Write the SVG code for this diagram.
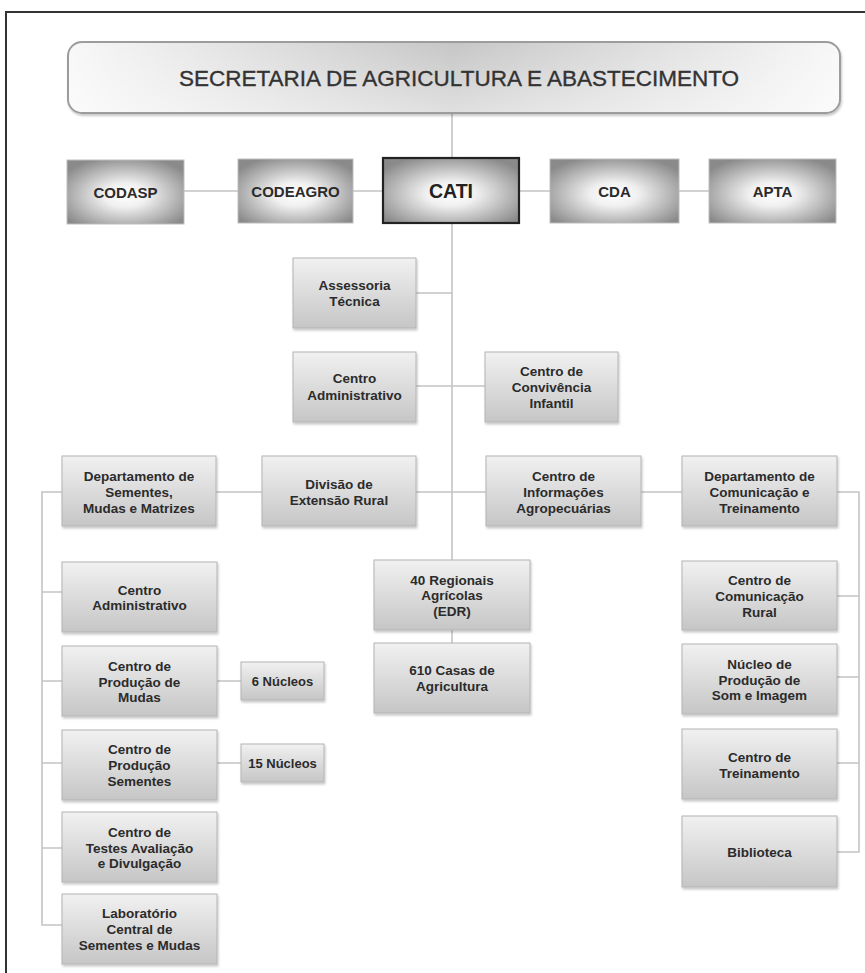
<svg xmlns="http://www.w3.org/2000/svg" width="865" height="973" viewBox="0 0 865 973">
<defs>
<linearGradient id="gHead" x1="0" y1="0" x2="1" y2="0">
<stop offset="0" stop-color="#f7f7f7"/>
<stop offset="0.5" stop-color="#c0c0c0"/>
<stop offset="1" stop-color="#f7f7f7"/>
</linearGradient>
<linearGradient id="gHeadV" x1="0" y1="0" x2="0" y2="1">
<stop offset="0" stop-color="#ffffff" stop-opacity="0.1"/>
<stop offset="1" stop-color="#ffffff" stop-opacity="0.5"/>
</linearGradient>
<radialGradient id="gTop" cx="0.5" cy="0.55" r="0.62">
<stop offset="0" stop-color="#ffffff"/>
<stop offset="0.3" stop-color="#f0f0f0"/>
<stop offset="1" stop-color="#8a8a8a"/>
</radialGradient>
<linearGradient id="gBox" x1="0" y1="0" x2="0" y2="1">
<stop offset="0" stop-color="#f1f1f1"/>
<stop offset="1" stop-color="#c6c6c6"/>
</linearGradient>
<filter id="sh" x="-10%" y="-10%" width="125%" height="130%">
<feDropShadow dx="1" dy="2" stdDeviation="1.2" flood-color="#000" flood-opacity="0.22"/>
</filter>
</defs>
<style>
.frame{fill:none;stroke:#333;stroke-width:2}
.con{fill:none;stroke:#c4c4c4;stroke-width:1.6}
.top{fill:url(#gTop);stroke:#bdbdbd;stroke-width:1}
.box{fill:url(#gBox);stroke:#b4b4b4;stroke-width:1;filter:url(#sh)}
.t{font-family:"Liberation Sans",Arial,sans-serif;font-weight:bold;font-size:13.5px;fill:#2b2b2b;text-anchor:middle;dominant-baseline:central}
.tt{font-family:"Liberation Sans",Arial,sans-serif;font-weight:bold;font-size:15px;fill:#2b2b2b;text-anchor:middle;dominant-baseline:central}
.tn{font-family:"Liberation Sans",Arial,sans-serif;font-weight:bold;font-size:13px;fill:#2b2b2b;text-anchor:middle;dominant-baseline:central}
</style>
<rect width="865" height="973" fill="#ffffff"/>
<rect class="frame" x="6" y="12" width="900" height="1000"/>

<g id="connectors">
<path class="con" d="M452 113 V643"/>
<path class="con" d="M184 191 H238 M353 191 H383 M519 191 H550 M679 191 H709"/>
<path class="con" d="M416 293 H452 M416 386 H485"/>
<path class="con" d="M216 492 H262 M416 492 H486 M641 492 H682"/>
<path class="con" d="M62 492 H42 V925 H62 M42 592 H62 M42 681 H62 M42 763 H62 M42 848 H62"/>
<path class="con" d="M217 681 H241 M217 763 H241"/>
<path class="con" d="M837 492 H859 V852 H837 M859 596 H837 M859 677 H837 M859 763 H837"/>
</g>

<g id="secretaria">
<rect x="68" y="42" width="772" height="71" rx="14" fill="url(#gHead)" stroke="#9c9c9c" stroke-width="2" filter="url(#sh)"/>
<rect x="69" y="43" width="770" height="69" rx="13" fill="url(#gHeadV)"/>
<text x="459" y="78" font-family="'Liberation Sans',Arial,sans-serif" font-size="22.5" fill="#333" stroke="#333" stroke-width="0.35" text-anchor="middle" dominant-baseline="central">SECRETARIA DE AGRICULTURA E ABASTECIMENTO</text>
</g>

<g id="codasp"><rect class="top" x="67" y="160" width="117" height="64"/><text class="tt" x="125.5" y="192">CODASP</text></g>
<g id="codeagro"><rect class="top" x="238" y="159" width="115" height="64"/><text class="tt" x="295.5" y="191">CODEAGRO</text></g>
<g id="cati"><rect x="383" y="158" width="136" height="65" fill="url(#gTop)" stroke="#222" stroke-width="2.2"/><text x="451" y="191" font-family="'Liberation Sans',Arial,sans-serif" font-weight="bold" font-size="19.5" fill="#222" text-anchor="middle" dominant-baseline="central">CATI</text></g>
<g id="cda"><rect class="top" x="550" y="159" width="129" height="64"/><text class="tt" x="614.5" y="191">CDA</text></g>
<g id="apta"><rect class="top" x="709" y="159" width="127" height="64"/><text class="tt" x="772.5" y="191">APTA</text></g>

<g id="assessoria"><rect class="box" x="293" y="258" width="123" height="70"/><text class="t" x="354.5" y="285">Assessoria</text><text class="t" x="354.5" y="301">Técnica</text></g>
<g id="centro-adm-cati"><rect class="box" x="293" y="352" width="123" height="70"/><text class="t" x="354.5" y="378">Centro</text><text class="t" x="354.5" y="395">Administrativo</text></g>
<g id="convivencia"><rect class="box" x="485" y="352" width="133" height="70"/><text class="t" x="551.5" y="371">Centro de</text><text class="t" x="551.5" y="387">Convivência</text><text class="t" x="551.5" y="403">Infantil</text></g>

<g id="dep-sementes"><rect class="box" x="62" y="456" width="154" height="70"/><text class="t" x="139" y="476">Departamento de</text><text class="t" x="139" y="492">Sementes,</text><text class="t" x="139" y="508">Mudas e Matrizes</text></g>
<g id="divisao"><rect class="box" x="262" y="456" width="154" height="70"/><text class="t" x="339" y="484">Divisão de</text><text class="t" x="339" y="500">Extensão Rural</text></g>
<g id="centro-info"><rect class="box" x="486" y="456" width="155" height="70"/><text class="t" x="563.5" y="476">Centro de</text><text class="t" x="563.5" y="492">Informações</text><text class="t" x="563.5" y="508">Agropecuárias</text></g>
<g id="dep-comunicacao"><rect class="box" x="682" y="456" width="155" height="70"/><text class="t" x="759.5" y="476">Departamento de</text><text class="t" x="759.5" y="492">Comunicação e</text><text class="t" x="759.5" y="508">Treinamento</text></g>

<g id="centro-adm-sem"><rect class="box" x="62" y="562" width="155" height="70"/><text class="t" x="139.5" y="590">Centro</text><text class="t" x="139.5" y="605">Administrativo</text></g>
<g id="prod-mudas"><rect class="box" x="62" y="646" width="155" height="70"/><text class="t" x="139.5" y="666">Centro de</text><text class="t" x="139.5" y="682">Produção de</text><text class="t" x="139.5" y="697">Mudas</text></g>
<g id="prod-sementes"><rect class="box" x="62" y="730" width="155" height="70"/><text class="t" x="139.5" y="749">Centro de</text><text class="t" x="139.5" y="765">Produção</text><text class="t" x="139.5" y="781">Sementes</text></g>
<g id="testes"><rect class="box" x="62" y="812" width="155" height="70"/><text class="t" x="139.5" y="832">Centro de</text><text class="t" x="139.5" y="848">Testes Avaliação</text><text class="t" x="139.5" y="863">e Divulgação</text></g>
<g id="laboratorio"><rect class="box" x="62" y="894" width="155" height="70"/><text class="t" x="139.5" y="913">Laboratório</text><text class="t" x="139.5" y="929">Central de</text><text class="t" x="139.5" y="945">Sementes e Mudas</text></g>
<g id="nucleos6"><rect class="box" x="241" y="662" width="83" height="38"/><text class="tn" x="282.5" y="681">6 Núcleos</text></g>
<g id="nucleos15"><rect class="box" x="241" y="744" width="83" height="38"/><text class="tn" x="282.5" y="763">15 Núcleos</text></g>

<g id="regionais"><rect class="box" x="374" y="560" width="156" height="70"/><text class="t" x="452" y="580">40 Regionais</text><text class="t" x="452" y="595">Agrícolas</text><text class="t" x="452" y="611">(EDR)</text></g>
<g id="casas"><rect class="box" x="374" y="643" width="156" height="70"/><text class="t" x="452" y="670">610 Casas de</text><text class="t" x="452" y="686">Agricultura</text></g>

<g id="comunicacao-rural"><rect class="box" x="682" y="561" width="155" height="69"/><text class="t" x="759.5" y="580">Centro de</text><text class="t" x="759.5" y="596">Comunicação</text><text class="t" x="759.5" y="612">Rural</text></g>
<g id="som-imagem"><rect class="box" x="682" y="644" width="155" height="70"/><text class="t" x="759.5" y="664">Núcleo de</text><text class="t" x="759.5" y="680">Produção de</text><text class="t" x="759.5" y="695">Som e Imagem</text></g>
<g id="treinamento"><rect class="box" x="682" y="729" width="155" height="70"/><text class="t" x="759.5" y="757">Centro de</text><text class="t" x="759.5" y="773">Treinamento</text></g>
<g id="biblioteca"><rect class="box" x="682" y="816" width="155" height="71"/><text class="t" x="759.5" y="852">Biblioteca</text></g>
</svg>
